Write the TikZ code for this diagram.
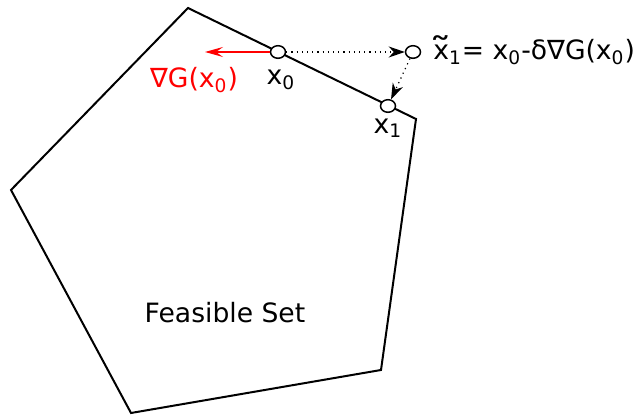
\documentclass[tikz,border=0pt]{standalone}
\usepackage{fontspec}
\setmainfont{DejaVu Sans}
\usetikzlibrary{positioning, arrows.meta, shapes.geometric}
\newcommand{\wtx}{\ooalign{x\cr\hidewidth\raisebox{-0.12em}{\scalebox{1.7}[1.3]{\char"02DC}}\hidewidth\cr}}

\begin{document}
\begin{tikzpicture}[
  x=0.5pt, y=-0.5pt,
  iter/.style={ellipse, draw, fill=white, line width=0.75pt, minimum width=7.5pt, minimum height=6.3pt, inner sep=0pt},
  lab/.style={font=\fontsize{13.3}{16}\selectfont, inner sep=1pt},
  move/.style={-{Stealth[length=8pt, width=5.5pt, inset=2.5pt]}, dotted, line width=0.6pt},
  grad/.style={-{Stealth[length=9pt, width=5pt, inset=3.5pt]}, red, line width=0.6pt}
]
\useasboundingbox (0,0) rectangle (637,415);
\draw[line width=1pt, line join=miter] (188,8) -- (416,119) -- (381,370) -- (131,413) -- (11,190) -- cycle;
\node[lab] (set) at (225,313) {Feasible Set};
\node[iter] (x0) at (278,52) {};
\node[iter] (x1) at (388,106) {};
\node[iter] (xt) at (413,52) {};
\coordinate (tip) at (205,52);
\node[lab] (x0lab) at (281,80) {x\textsubscript{0}};
\node[lab] (x1lab) at (388,128) {x\textsubscript{1}};
\node[lab, red] (gradlab) at (194,80) {∇G(x\textsubscript{0})};
\node[lab, anchor=west] (xtlab) at (431,52) {\wtx\textsubscript{1}= x\textsubscript{0}-δ∇G(x\textsubscript{0})};
\draw[grad] (x0) -- (tip);
\draw[move] (x0) -- (xt);
\draw[move] (xt) -- (x1);
\end{tikzpicture}
\end{document}
